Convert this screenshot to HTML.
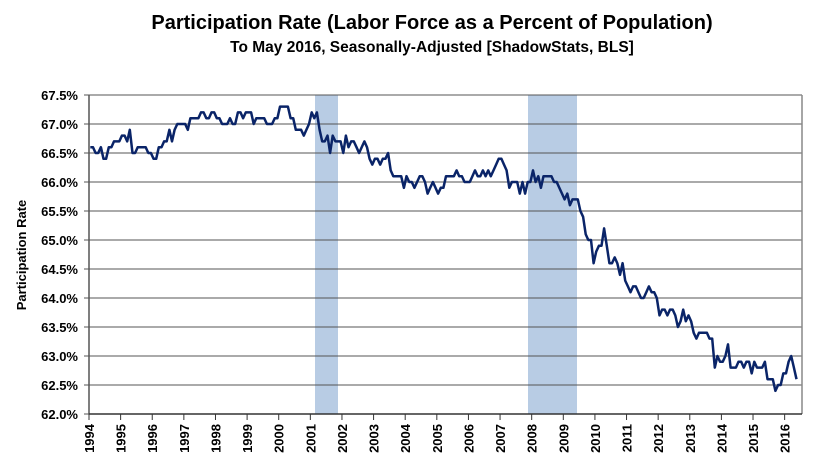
<!DOCTYPE html>
<html><head><meta charset="utf-8"><style>
html,body{margin:0;padding:0;background:#fff;}
svg{display:block;font-family:"Liberation Sans",Arial,sans-serif;}
</style></head><body>
<svg id="c" width="821" height="466" viewBox="0 0 821 466">
<text x="432" y="29" text-anchor="middle" font-size="20" font-weight="bold">Participation Rate (Labor Force as a Percent of Population)</text>
<text x="432" y="52" text-anchor="middle" font-size="15.5" font-weight="bold">To May 2016, Seasonally-Adjusted [ShadowStats, BLS]</text>
<rect x="315" y="95" width="23" height="319" fill="#b8cce4"/>
<rect x="528" y="95" width="49" height="319" fill="#b8cce4"/>
<g id="grid"></g>
<text transform="translate(26,255) rotate(-90)" text-anchor="middle" font-size="13" font-weight="bold">Participation Rate</text>
<polyline id="line" fill="none" stroke="#0a2468" stroke-width="2.5" stroke-linejoin="round"/>
</svg>
<script>
var d=[66.6,66.6,66.5,66.5,66.6,66.4,66.4,66.6,66.6,66.7,66.7,66.7,
66.8,66.8,66.7,66.9,66.5,66.5,66.6,66.6,66.6,66.6,66.5,66.5,
66.4,66.4,66.6,66.6,66.7,66.7,66.9,66.7,66.9,67.0,67.0,67.0,
67.0,66.9,67.1,67.1,67.1,67.1,67.2,67.2,67.1,67.1,67.2,67.2,
67.1,67.1,67.0,67.0,67.0,67.1,67.0,67.0,67.2,67.2,67.1,67.2,
67.2,67.2,67.0,67.1,67.1,67.1,67.1,67.0,67.0,67.0,67.1,67.1,
67.3,67.3,67.3,67.3,67.1,67.1,66.9,66.9,66.9,66.8,66.9,67.0,
67.2,67.1,67.2,66.9,66.7,66.7,66.8,66.5,66.8,66.7,66.7,66.7,
66.5,66.8,66.6,66.7,66.7,66.6,66.5,66.6,66.7,66.6,66.4,66.3,
66.4,66.4,66.3,66.4,66.4,66.5,66.2,66.1,66.1,66.1,66.1,65.9,
66.1,66.0,66.0,65.9,66.0,66.1,66.1,66.0,65.8,65.9,66.0,65.9,
65.8,65.9,65.9,66.1,66.1,66.1,66.1,66.2,66.1,66.1,66.0,66.0,
66.0,66.1,66.2,66.1,66.1,66.2,66.1,66.2,66.1,66.2,66.3,66.4,
66.4,66.3,66.2,65.9,66.0,66.0,66.0,65.8,66.0,65.8,66.0,66.0,
66.2,66.0,66.1,65.9,66.1,66.1,66.1,66.1,66.0,66.0,65.9,65.8,
65.7,65.8,65.6,65.7,65.7,65.7,65.5,65.4,65.1,65.0,65.0,64.6,
64.8,64.9,64.9,65.2,64.9,64.6,64.6,64.7,64.6,64.4,64.6,64.3,
64.2,64.1,64.2,64.2,64.1,64.0,64.0,64.1,64.2,64.1,64.1,64.0,
63.7,63.8,63.8,63.7,63.8,63.8,63.7,63.5,63.6,63.8,63.6,63.7,
63.6,63.4,63.3,63.4,63.4,63.4,63.4,63.3,63.3,62.8,63.0,62.9,
62.9,63.0,63.2,62.8,62.8,62.8,62.9,62.9,62.8,62.9,62.9,62.7,
62.9,62.8,62.8,62.8,62.9,62.6,62.6,62.6,62.4,62.5,62.5,62.7,
62.7,62.9,63.0,62.8,62.6];
var X0=89,PY=31.62,Y0=414,YT=95;
function yv(v){return Y0-(v-62)/5.5*(Y0-YT);}
var g='',ns='http://www.w3.org/2000/svg';
for(var i=0;i<=11;i++){var v=62+i*0.5,y=yv(v);
 if(i>0)g+='<line x1="89" x2="802" y1="'+y+'" y2="'+y+'" stroke="#555" stroke-width="1"/>';
 g+='<line x1="84" x2="89" y1="'+y+'" y2="'+y+'" stroke="#555"/>';
 g+='<text x="78" y="'+(y+5)+'" text-anchor="end" font-size="13" font-weight="bold">'+v.toFixed(1)+'%</text>';}
g+='<line x1="89" x2="89" y1="95" y2="414" stroke="#555" stroke-width="1.5"/>';
g+='<line x1="802" x2="802" y1="95" y2="414" stroke="#888" stroke-width="1.5"/>';
g+='<line x1="89" x2="802" y1="414" y2="414" stroke="#333" stroke-width="1.5"/>';
for(var k=0;k<=22;k++){var x=X0+k*PY;
 g+='<line x1="'+x+'" x2="'+x+'" y1="414" y2="420" stroke="#333"/>';
 g+='<text transform="translate('+(x+5)+',424) rotate(-90)" text-anchor="end" font-size="13" font-weight="bold">'+(1994+k)+'</text>';}
document.getElementById('grid').innerHTML=g;
var p=[];for(var j=0;j<d.length;j++){p.push((X0+(j+0.5)/12*PY).toFixed(1)+','+yv(d[j]).toFixed(1));}
document.getElementById('line').setAttribute('points',p.join(' '));
</script>
</body></html>
